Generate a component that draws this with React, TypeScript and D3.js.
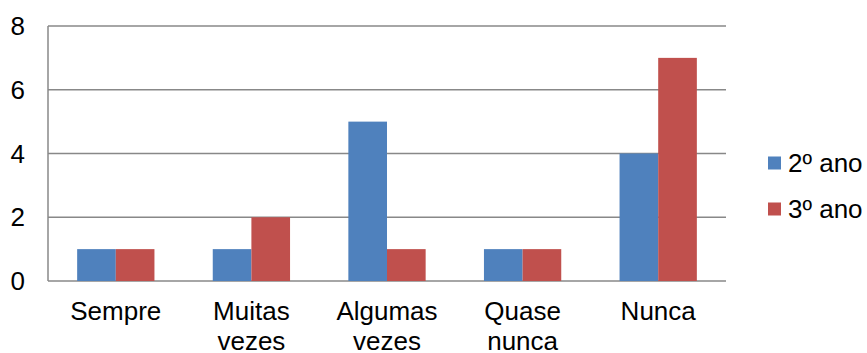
import React from "react";
import * as d3 from "d3";

const categories = ["Sempre", "Muitas vezes", "Algumas vezes", "Quase nunca", "Nunca"];
const categoryLines = [["Sempre"], ["Muitas", "vezes"], ["Algumas", "vezes"], ["Quase", "nunca"], ["Nunca"]];
const seriesNames = ["2º ano", "3º ano"];
const serie2ano = [1, 1, 5, 1, 4];
const serie3ano = [1, 2, 1, 1, 7];
const seriesValues = [serie2ano, serie3ano];
const seriesColors = ["#4F81BD", "#C0504D"];
const yTicks = [0, 2, 4, 6, 8];

const W = 867;
const H = 353;
const left = 48;
const right = 726;
const top = 26;
const bottom = 281;
const FONT = "'Liberation Sans', Arial, sans-serif";
const FS = 26;

export default function App() {
  const x = d3.scaleBand<string>().domain(categories).range([left, right]).padding(0);
  const y = d3.scaleLinear().domain([0, 8]).range([bottom, top]);
  const bw = x.bandwidth();
  const gw = bw * 0.57;
  const x1 = d3.scaleBand<string>().domain(seriesNames).range([(bw - gw) / 2, (bw + gw) / 2]).padding(0);

  return (
    <svg width={W} height={H} style={{ position: "absolute", left: 0, top: 0 }} fontFamily={FONT}>
      <rect width={W} height={H} fill="#fff" />
      {yTicks.map((t) => (
        <g key={t}>
          <line x1={left} x2={right} y1={y(t)} y2={y(t)} stroke="#888" strokeWidth={1.5} />
          <text x={25} y={y(t)} textAnchor="end" dominantBaseline="central" fontSize={FS} fill="#000">
            {t}
          </text>
        </g>
      ))}
      <line x1={left} x2={left} y1={top} y2={bottom} stroke="#888" strokeWidth={1.5} />
      {categories.map((c, ci) => (
        <g key={c}>
          {seriesNames.map((s, si) => (
            <rect
              key={s}
              x={(x(c) as number) + (x1(s) as number)}
              y={y(seriesValues[si][ci])}
              width={x1.bandwidth()}
              height={bottom - y(seriesValues[si][ci])}
              fill={seriesColors[si]}
            />
          ))}
          <text textAnchor="middle" fontSize={FS} fill="#000">
            {categoryLines[ci].map((ln, li) => (
              <tspan key={li} x={(x(c) as number) + bw / 2} y={320 + li * 30}>
                {ln}
              </tspan>
            ))}
          </text>
        </g>
      ))}
      {seriesNames.map((s, si) => (
        <g key={s} transform={`translate(768, ${163 + si * 46})`}>
          <rect x={0} y={-6.5} width={13} height={13} fill={seriesColors[si]} />
          <text x={20} y={0} dominantBaseline="central" fontSize={FS} fill="#000">
            {s}
          </text>
        </g>
      ))}
    </svg>
  );
}
